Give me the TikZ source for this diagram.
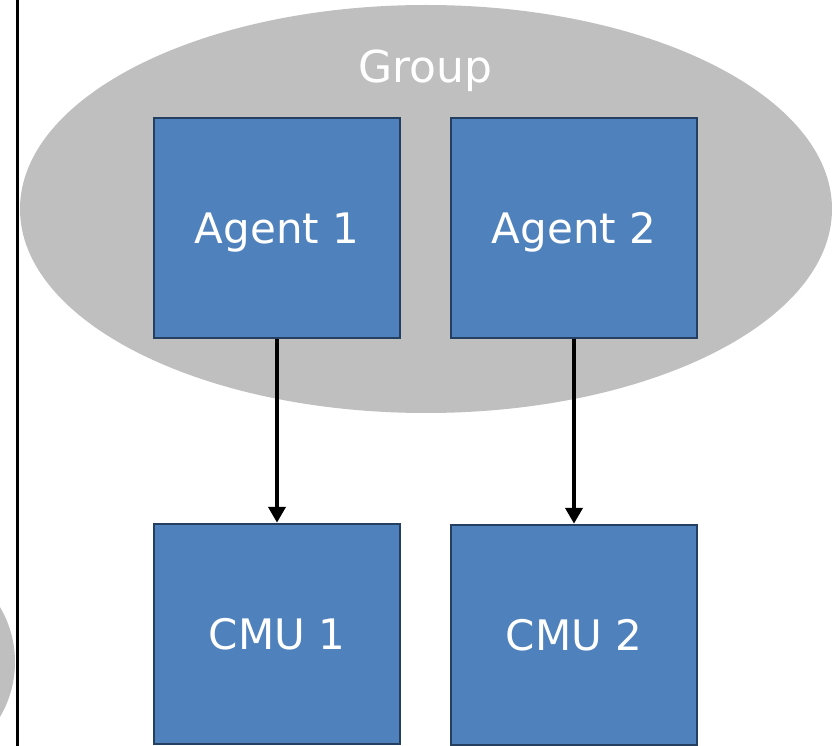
\documentclass[tikz,border=0pt]{standalone}
\usepackage{fontspec}
\setmainfont{DejaVu Sans}
\usetikzlibrary{arrows.meta}
\usetikzlibrary{positioning}
\usetikzlibrary{shapes.geometric}
\definecolor{colorBox}{HTML}{4F81BD}
\definecolor{colorBorder}{HTML}{243F60}
\definecolor{colorGroup}{HTML}{BFBFBF}
\tikzset{
   every path/.style={>={Triangle[width=17pt,length=16pt]}},
   unit/.style={rectangle,draw=colorBorder,line width=2.5pt,fill=colorBox,
                text=white,font=\fontsize{42}{50}\selectfont,text depth=0pt,
                minimum width=246pt,minimum height=220pt,inner sep=0pt},
   groupbg/.style={ellipse,fill=colorGroup,minimum width=812pt,
                   minimum height=408pt,inner sep=0pt},
   grouplabel/.style={text=white,font=\fontsize{44}{52}\selectfont,
                      text depth=0pt,inner sep=0pt},
   link/.style={->,line width=4pt,shorten >=0pt},
}
\begin{document}
\begin{tikzpicture}[x=1pt,y=-1pt]

        \useasboundingbox (0,0) rectangle (836,746);
        \clip (0,0) rectangle (836,746);

        % neighbour group and frame edge
        \fill[colorGroup] (-93,662) circle (108);
        \draw[line width=2.5pt] (17.5,0) -- (17.5,746);

        \node[groupbg] (group) at (426,209) {};
        \node[grouplabel] (grouptitle) at (425,66) {Group};

        \node[unit] (agent1) at (277,228) {Agent 1};
        \node[unit] (agent2) at (574,228) {Agent 2};

        \node[unit] (cmu1) at (277,634) {CMU 1};
        \node[unit] (cmu2) at (574,635) {CMU 2};

        \draw[link] (agent1) -- (cmu1);
        \draw[link] (agent2) -- (cmu2);

      \end{tikzpicture}
\end{document}
